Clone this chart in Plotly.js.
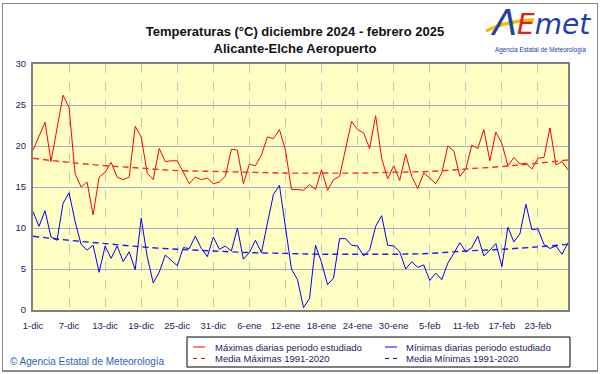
<!DOCTYPE html>
<html>
<head>
<meta charset="utf-8">
<script src="https://cdn.plot.ly/plotly-3.0.1.min.js"></script>
<style>
html,body{margin:0;padding:0;background:#fff;}
#wrap{position:relative;width:601px;height:374px;}
#chart{width:601px;height:374px;}
#frame{position:absolute;left:2px;top:3px;width:594px;height:366px;border:1px solid #8a8a8a;border-bottom:2px solid #8a8a8a;pointer-events:none;}
</style>
</head>
<body>
<div id="wrap"><div id="chart"></div><div id="frame"></div></div>
<script>
// ---- data ----
const startDate = [2024, 11, 1]; // 1 Dec 2024
const maxDaily = [19.5,21.3,22.9,18.1,22.2,26.2,24.7,16.6,15.0,15.6,
                  11.6,16.2,16.8,18.0,16.2,15.9,16.2,22.4,21.1,16.7,
                  15.9,19.7,18.1,18.2,18.2,16.7,15.4,16.2,15.9,16.1,
                  15.4,15.6,16.3,19.6,19.5,15.4,17.8,17.6,18.9,21.1,
                  20.9,22.0,19.5,14.7,14.7,14.6,15.3,14.7,17.1,14.6,
                  15.9,16.3,19.5,23.0,22.0,21.6,19.7,23.7,18.5,16.0,
                  17.6,15.8,19.0,16.3,14.8,16.7,16.1,15.4,16.7,20.0,
                  19.4,16.3,17.2,20.1,19.7,22.0,18.2,21.7,20.3,17.6,
                  18.6,17.8,17.9,17.2,18.5,18.6,22.2,17.7,18.1,17.1];
const minDaily = [12.0,10.2,12.1,8.9,8.5,13.0,14.3,10.8,8.0,7.3,
                  7.9,4.6,7.8,6.3,7.8,5.9,7.1,4.9,11.2,6.5,
                  3.3,4.6,6.7,6.0,5.4,7.6,7.5,9.0,7.5,6.5,
                  8.9,7.4,7.8,7.2,10.0,6.2,7.0,8.5,7.0,10.6,
                  14.1,15.2,10.1,5.0,3.7,0.3,1.4,7.9,5.8,3.1,
                  3.9,8.7,8.7,7.9,7.8,6.6,7.3,10.2,11.5,7.9,
                  7.8,7.1,5.0,5.9,5.2,5.5,3.6,4.5,3.7,5.7,
                  6.9,8.2,7.1,7.6,9.0,6.6,7.3,8.1,5.3,10.1,
                  8.3,9.3,12.9,9.8,9.9,8.0,7.5,7.8,6.8,8.2];
const meanDays = [0,6,12,18,24,30,36,42,48,54,60,66,72,78,84,89];
const meanMax  = [18.5,18.0,17.6,17.3,17.0,16.9,16.8,16.7,16.7,16.7,16.8,16.9,17.2,17.5,17.9,18.3];
const meanMin  = [9.0,8.5,8.1,7.7,7.4,7.2,7.0,6.9,6.8,6.8,6.8,6.9,7.2,7.4,7.7,8.0];
const tickDays = [0,6,12,18,24,30,36,42,48,54,60,66,72,78,84];
const tickLabels = ['1-dic','7-dic','13-dic','19-dic','25-dic','31-dic','6-ene','12-ene','18-ene','24-ene','30-ene','5-feb','11-feb','17-feb','23-feb'];
const yTicks = [0,5,10,15,20,25,30];
const seriesNames = ['Máximas diarias periodo estudiado','Mínimas diarias periodo estudiado','Media Máximas 1991-2020','Media Mínimas 1991-2020'];
const titleText = 'Temperaturas (°C) diciembre 2024 - febrero 2025<br>Alicante-Elche Aeropuerto';
const copyrightText = '© Agencia Estatal de Meteorología';

// ---- helpers ----
function dayToDate(i){
  const d = new Date(Date.UTC(startDate[0], startDate[1], startDate[2] + i));
  return d.toISOString().slice(0,10);
}
const xDaily = maxDaily.map((_, i) => dayToDate(i));
const xMean = meanDays.map(dayToDate);

// pixel -> paper helpers (plot area: x 33..568, y 64..310)
const L = 33, R = 568, T = 64, B = 310;
const px = x => (x - L) / (R - L);
const py = y => (B - y) / (B - T);

const RED = '#ff0000', BLUE = '#0000ff';
const NAVY = '#1c1c5c';
const LOGO_BLUE = '#2340a8';

const traces = [
  {x: xDaily, y: maxDaily, name: seriesNames[0], mode: 'lines', line: {color: RED, width: 1}},
  {x: xDaily, y: minDaily, name: seriesNames[1], mode: 'lines', line: {color: BLUE, width: 1}},
  {x: xMean, y: meanMax, name: seriesNames[2], mode: 'lines', line: {color: '#ff2a2a', width: 1.4, dash: '6px,4px', shape: 'spline', smoothing: 1}},
  {x: xMean, y: meanMin, name: seriesNames[3], mode: 'lines', line: {color: '#1a1aff', width: 1.4, dash: '6px,4px', shape: 'spline', smoothing: 1}}
];

const font = 'Liberation Sans, Arial, sans-serif';

const shapes = [
  // legend box
  {type: 'rect', xref: 'paper', yref: 'paper', x0: px(187), x1: px(570), y0: py(337), y1: py(367),
   line: {color: '#000', width: 1}, fillcolor: '#fff', layer: 'above'},
  // legend samples
  {type: 'line', xref: 'paper', yref: 'paper', x0: px(193), x1: px(205), y0: py(347), y1: py(347), line: {color: RED, width: 1}},
  {type: 'line', xref: 'paper', yref: 'paper', x0: px(193), x1: px(206), y0: py(358.5), y1: py(358.5), line: {color: RED, width: 1, dash: '4px,4px'}},
  {type: 'line', xref: 'paper', yref: 'paper', x0: px(385), x1: px(397), y0: py(347), y1: py(347), line: {color: BLUE, width: 1}},
  {type: 'line', xref: 'paper', yref: 'paper', x0: px(385), x1: px(398), y0: py(358.5), y1: py(358.5), line: {color: BLUE, width: 1, dash: '4px,4px'}},
  // logo yellow swoosh
  {type: 'path', xref: 'paper', yref: 'paper', layer: 'above',
   path: 'M ' + px(486) + ',' + py(31) + ' Q ' + px(505) + ',' + py(21) + ' ' + px(534) + ',' + py(20),
   fillcolor: 'rgba(0,0,0,0)', line: {color: '#f2c200', width: 3.5}}
];

const annotations = [
  {xref: 'paper', yref: 'paper', x: px(213), y: py(347), xanchor: 'left', yanchor: 'middle', showarrow: false,
   text: seriesNames[0], font: {family: font, size: 9.5, color: NAVY}},
  {xref: 'paper', yref: 'paper', x: px(213), y: py(358.5), xanchor: 'left', yanchor: 'middle', showarrow: false,
   text: seriesNames[2], font: {family: font, size: 9.5, color: NAVY}},
  {xref: 'paper', yref: 'paper', x: px(404), y: py(347), xanchor: 'left', yanchor: 'middle', showarrow: false,
   text: seriesNames[1], font: {family: font, size: 9.5, color: NAVY}},
  {xref: 'paper', yref: 'paper', x: px(404), y: py(358.5), xanchor: 'left', yanchor: 'middle', showarrow: false,
   text: seriesNames[3], font: {family: font, size: 9.5, color: NAVY}},
  {xref: 'paper', yref: 'paper', x: px(8), y: py(361), xanchor: 'left', yanchor: 'middle', showarrow: false,
   text: copyrightText, font: {family: font, size: 10, color: '#2f5fc0'}},
  // logo
  {xref: 'paper', yref: 'paper', x: px(504), y: py(23), xanchor: 'center', yanchor: 'middle', showarrow: false,
   borderpad: 0, text: 'Λ', font: {family: 'DejaVu Sans, sans-serif', size: 36, color: LOGO_BLUE, style: 'italic'}},
  {xref: 'paper', yref: 'paper', x: px(516), y: py(24.5), xanchor: 'left', yanchor: 'middle', showarrow: false,
   borderpad: 0, text: '<span style="color:#e02020">E</span>met',
   font: {family: 'DejaVu Sans, sans-serif', size: 28, color: LOGO_BLUE, style: 'italic'}},
  {xref: 'paper', yref: 'paper', x: px(541), y: py(50), xanchor: 'center', yanchor: 'middle', showarrow: false,
   text: 'Agencia Estatal de Meteorología', font: {family: font, size: 6.3, color: LOGO_BLUE}}
];

const layout = {
  width: 601, height: 374,
  margin: {l: L, r: 601 - R, t: T, b: 374 - B, pad: 0},
  paper_bgcolor: '#ffffff',
  plot_bgcolor: '#ffffc4',
  showlegend: false,
  title: {text: titleText, x: 295 / 601, xref: 'container', xanchor: 'center',
          y: 1 - 36 / 374, yref: 'container', yanchor: 'middle',
          font: {family: font, size: 13, color: '#111', weight: 'bold'}},
  xaxis: {
    type: 'date', range: [dayToDate(0), dayToDate(89)],
    tickvals: tickDays.map(dayToDate), ticktext: tickLabels,
    showgrid: true, gridcolor: '#c4c4c4', griddash: 'dash', gridwidth: 1,
    showline: true, mirror: true, linecolor: '#808080', linewidth: 2,
    ticks: 'outside', ticklen: 6, tickcolor: 'rgba(0,0,0,0)',
    tickfont: {family: font, size: 9.5, color: NAVY}, zeroline: false, fixedrange: true
  },
  yaxis: {
    range: [0, 30], tickvals: yTicks,
    showgrid: true, gridcolor: '#a8a8c8', gridwidth: 1,
    showline: true, mirror: true, linecolor: '#808080', linewidth: 2,
    ticks: 'outside', ticklen: 3, tickcolor: 'rgba(0,0,0,0)',
    tickfont: {family: font, size: 9.5, color: NAVY}, zeroline: false, fixedrange: true
  },
  shapes: shapes,
  annotations: annotations
};

Plotly.newPlot('chart', traces, layout, {displayModeBar: false, staticPlot: true});
</script>
</body>
</html>
